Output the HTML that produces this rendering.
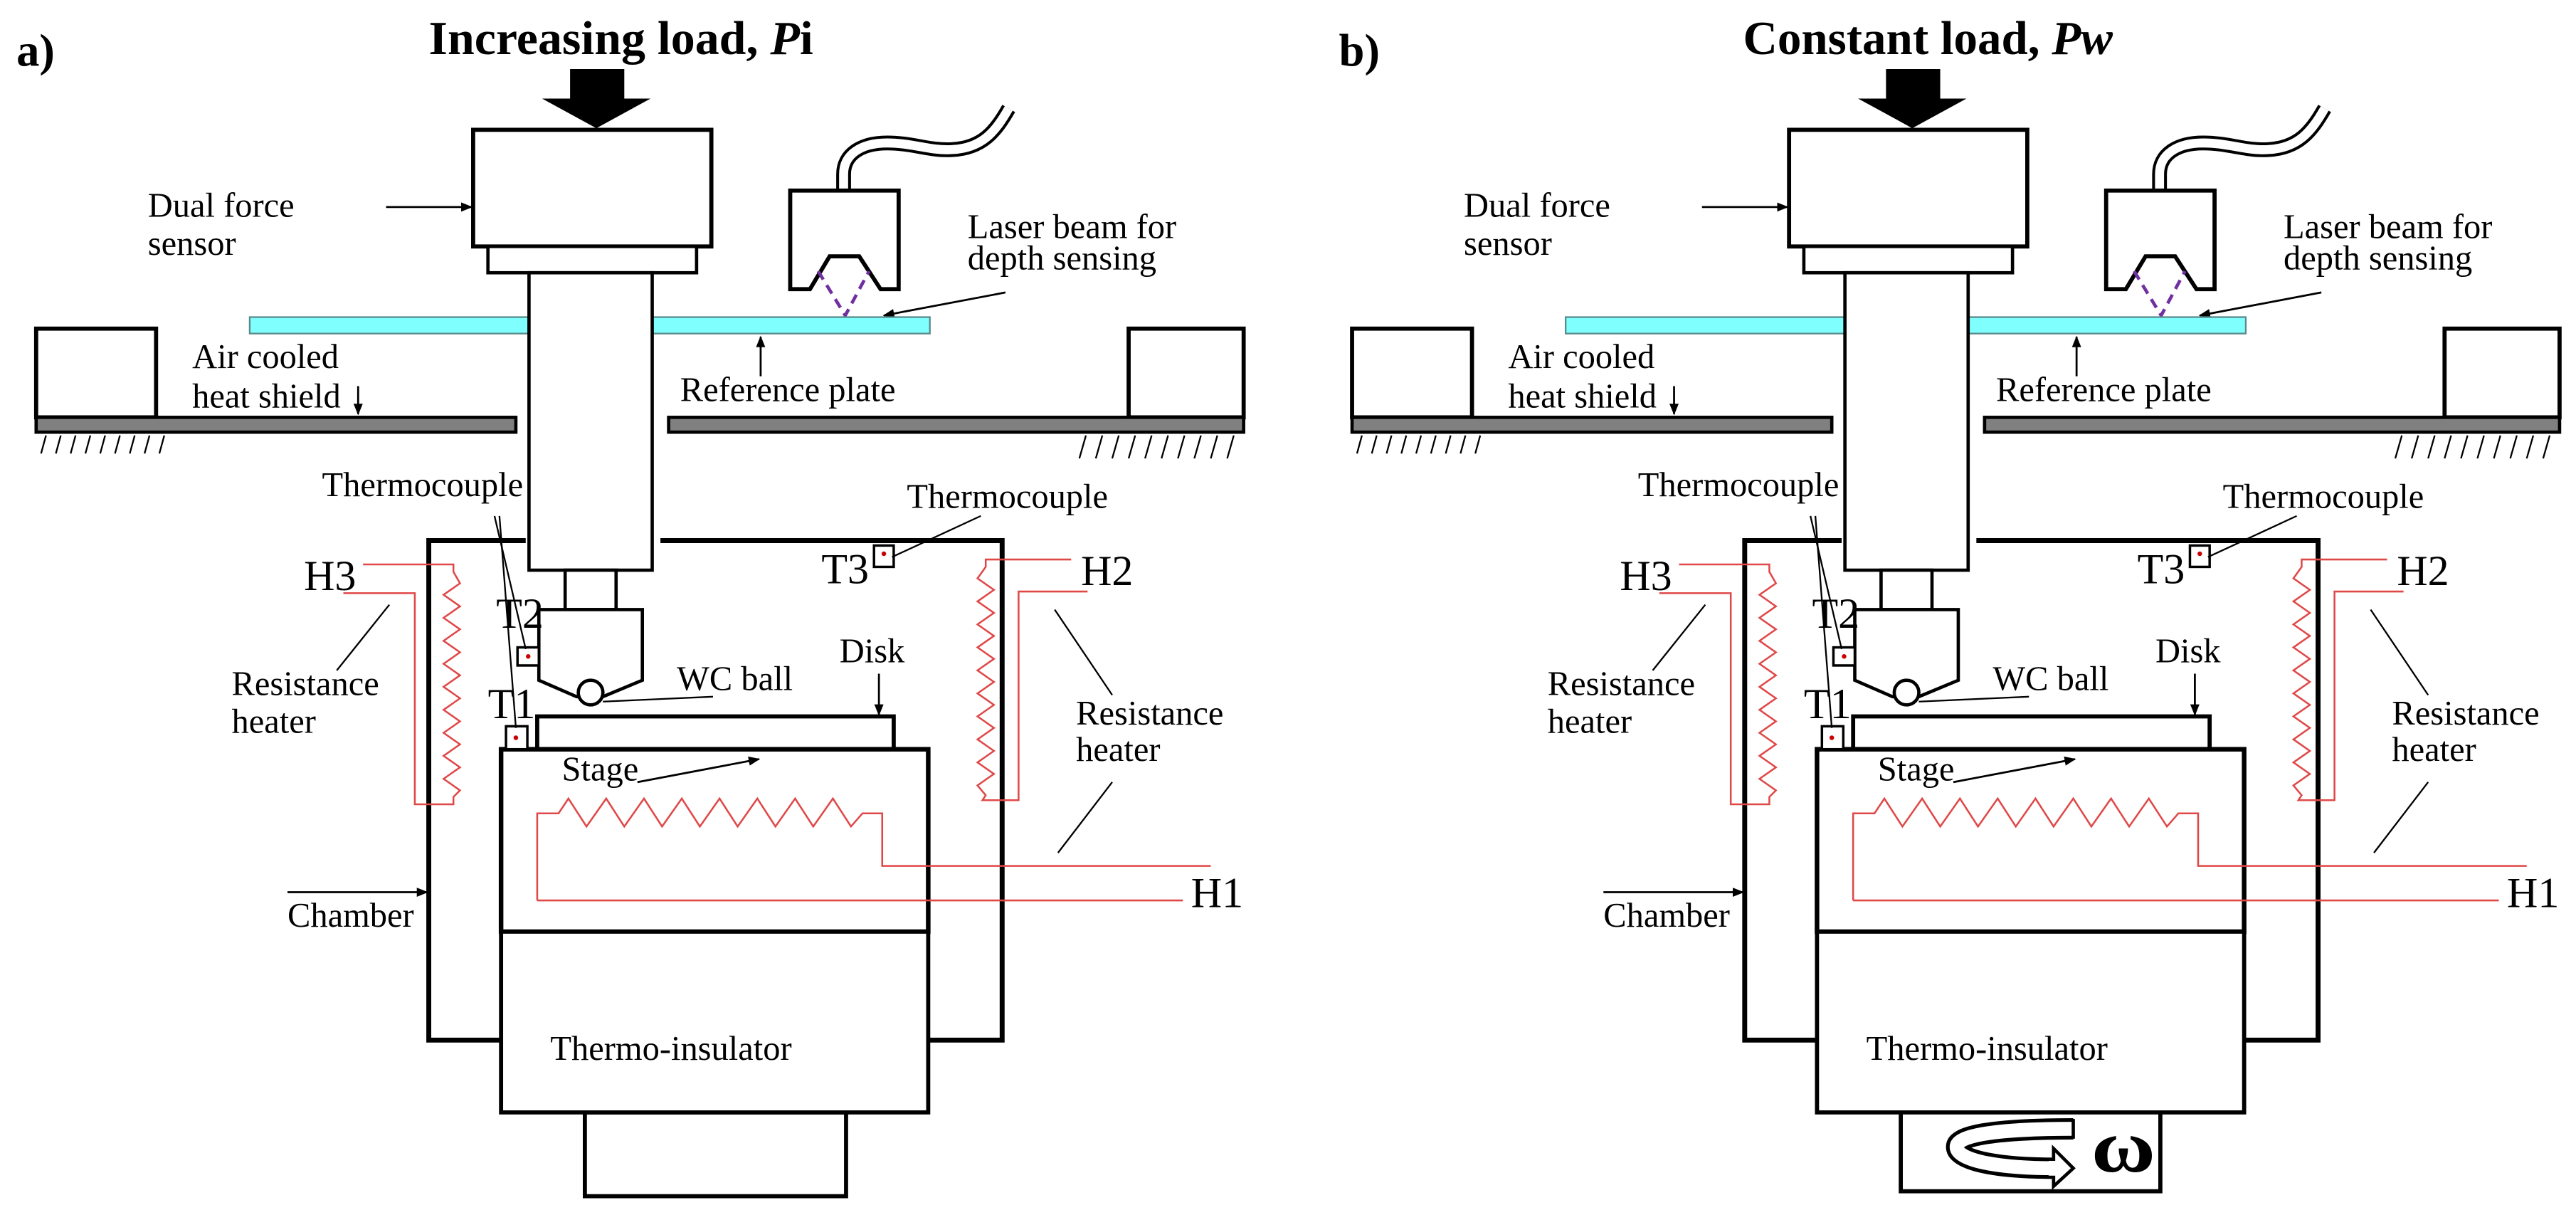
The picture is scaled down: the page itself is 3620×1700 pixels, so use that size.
<!DOCTYPE html>
<html><head><meta charset="utf-8"><style>html,body{margin:0;padding:0;background:#fff}svg{display:block}</style></head>
<body>
<svg width="3620" height="1700" viewBox="0 0 1568 736.4" preserveAspectRatio="none" xmlns="http://www.w3.org/2000/svg" font-family="Liberation Serif, serif">
<defs>
<marker id="ah" viewBox="0 0 10 10" refX="9" refY="5" markerWidth="7" markerHeight="7" orient="auto" markerUnits="userSpaceOnUse"><path d="M0,1 L10,5 L0,9 Z" fill="#000"/></marker>
</defs>
<rect width="1568" height="736.4" fill="#fff"/>

<!-- Titles -->
<text x="10" y="40" font-size="28" font-weight="bold">a)</text>
<text x="261" y="33" font-size="29" font-weight="bold" textLength="234" lengthAdjust="spacingAndGlyphs">Increasing load, <tspan font-style="italic">P</tspan>i</text>
<text x="815" y="40" font-size="28" font-weight="bold">b)</text>
<text x="1061" y="33" font-size="29" font-weight="bold" textLength="225" lengthAdjust="spacingAndGlyphs">Constant load, <tspan font-style="italic">P</tspan><tspan font-style="italic">w</tspan></text>

<!-- bottom blocks -->
<rect x="356" y="677" width="159" height="51" fill="#fff" stroke="#000" stroke-width="2.5"/>
<rect x="1157" y="676" width="158" height="49" fill="#fff" stroke="#000" stroke-width="2.5"/>
<g fill="none">
<path d="M1262,687 C1215,687 1191,691 1191,698 C1191,706 1215,711 1251,711" stroke="#000" stroke-width="13"/>
<path d="M1262,687 C1215,687 1191,691 1191,698 C1191,706 1215,711 1251,711" stroke="#fff" stroke-width="8.5"/>
<path d="M1262,681 V693" stroke="#000" stroke-width="2"/>
</g>
<path d="M1250,699 L1262,711 L1250,722 Z" fill="#fff" stroke="#000" stroke-width="2"/>
<rect x="1247" y="706.5" width="5" height="9" fill="#fff"/>
<text x="1273" y="713" font-size="46" font-weight="bold" textLength="39" lengthAdjust="spacingAndGlyphs">ω</text>

<g id="pa">
<path d="M347,42 H380 V60 H396 L363,78 L330,60 H347 Z" fill="#000"/>
<rect x="288" y="79" width="145" height="71" fill="#fff" stroke="#000" stroke-width="2.5"/>
<rect x="297" y="150" width="127" height="16" fill="#fff" stroke="#000" stroke-width="2"/>
<text x="90" y="132" font-size="21">Dual force</text>
<text x="90" y="155" font-size="21">sensor</text>
<line x1="235" y1="126" x2="287" y2="126" stroke="#000" stroke-width="1.2" marker-end="url(#ah)"/>
<path d="M513.5,116 V106 C513.5,94 524,87 540,87 C556,87 566,92 580,91 C598,90 606,80 614,66" fill="none" stroke="#000" stroke-width="9"/>
<path d="M513.5,117 V106 C513.5,94 524,87 540,87 C556,87 566,92 580,91 C598,90 606,80 614,66" fill="none" stroke="#fff" stroke-width="5.5"/>
<path d="M481,116 H547 V176 H536 L523,156 H505 L493,176 H481 Z" fill="#fff" stroke="#000" stroke-width="2.5"/>
<path d="M498,165 L514.5,192 L529,165" fill="none" stroke="#7030a0" stroke-width="2" stroke-dasharray="6,4"/>
<text x="589" y="145" font-size="21">Laser beam for</text>
<text x="589" y="164" font-size="21">depth sensing</text>
<line x1="612" y1="178" x2="538" y2="192" stroke="#000" stroke-width="1.2" marker-end="url(#ah)"/>
<rect x="152" y="193" width="414" height="10" fill="#80ffff" stroke="#5a8a8a" stroke-width="1"/>
<rect x="22" y="200" width="73" height="54" fill="#fff" stroke="#000" stroke-width="2.5"/>
<rect x="687" y="200" width="70" height="54" fill="#fff" stroke="#000" stroke-width="2.5"/>
<rect x="22" y="254" width="292" height="9" fill="#808080" stroke="#000" stroke-width="2"/>
<rect x="407" y="254" width="350" height="9" fill="#808080" stroke="#000" stroke-width="2"/>
<g stroke="#000" stroke-width="1">
<path d="M25,276 L28,265 M34,276 L37,265 M43,276 L46,265 M52,276 L55,265 M61,276 L64,265 M70,276 L73,265 M79,276 L82,265 M88,276 L91,265 M97,276 L100,265"/>
<path d="M657,279 L661,265 M667,279 L671,265 M677,279 L681,265 M687,279 L691,265 M697,279 L701,265 M707,279 L711,265 M717,279 L721,265 M727,279 L731,265 M737,279 L741,265 M747,279 L751,265"/>
</g>
<text x="117" y="224" font-size="21">Air cooled</text>
<text x="117" y="248" font-size="21">heat shield</text>
<line x1="218" y1="235" x2="218" y2="252" stroke="#000" stroke-width="1.2" marker-end="url(#ah)"/>
<text x="414" y="244" font-size="21">Reference plate</text>
<line x1="463" y1="229" x2="463" y2="205" stroke="#000" stroke-width="1.2" marker-end="url(#ah)"/>
<rect x="322" y="166" width="75" height="181" fill="#fff" stroke="#000" stroke-width="2"/>
<rect x="344" y="347" width="31" height="24" fill="#fff" stroke="#000" stroke-width="2"/>
<polygon points="328,371 391,371 391,414 367,424 351,424 328,414" fill="#fff" stroke="#000" stroke-width="2"/>
<circle cx="359.5" cy="421.5" r="7.5" fill="#fff" stroke="#000" stroke-width="2"/>
<g stroke="#000" stroke-width="3" fill="none">
<path d="M320,329 H261 V633 H305"/>
<path d="M402,329 H610 V633 H565"/>
</g>
<rect x="327" y="436" width="217" height="20" fill="#fff" stroke="#000" stroke-width="2.5"/>
<rect x="305" y="456" width="260" height="111" fill="#fff" stroke="#000" stroke-width="2.8"/>
<rect x="305" y="567" width="260" height="110" fill="#fff" stroke="#000" stroke-width="2.5"/>
<rect x="315" y="394" width="13" height="11" fill="#fff" stroke="#000" stroke-width="1.5"/>
<circle cx="321.5" cy="399.5" r="1.4" fill="#c00"/>
<rect x="308" y="442" width="13" height="14" fill="#fff" stroke="#000" stroke-width="1.5"/>
<circle cx="314" cy="449" r="1.4" fill="#c00"/>
<rect x="532" y="332" width="12" height="13" fill="#fff" stroke="#000" stroke-width="1.5"/>
<circle cx="538" cy="337" r="1.4" fill="#c00"/>
<g stroke="#000" stroke-width="1">
<line x1="301" y1="314" x2="320" y2="395"/>
<line x1="304" y1="314" x2="314" y2="443"/>
<line x1="597" y1="314" x2="543" y2="339"/>
<line x1="205" y1="408" x2="237" y2="368"/>
<line x1="642" y1="371" x2="677" y2="423"/>
<line x1="677" y1="476" x2="644" y2="519"/>
<line x1="434" y1="424" x2="367" y2="427"/>
</g>
<text x="196" y="302" font-size="21">Thermocouple</text>
<text x="552" y="309" font-size="21">Thermocouple</text>
<text x="302" y="382" font-size="26">T2</text>
<text x="297" y="437" font-size="26">T1</text>
<text x="500" y="355" font-size="26">T3</text>
<text x="185" y="359" font-size="26">H3</text>
<text x="658" y="356" font-size="26">H2</text>
<text x="725" y="552" font-size="26">H1</text>
<text x="141" y="423" font-size="21">Resistance</text>
<text x="141" y="446" font-size="21">heater</text>
<text x="655" y="441" font-size="21">Resistance</text>
<text x="655" y="463" font-size="21">heater</text>
<text x="511" y="403" font-size="21">Disk</text>
<line x1="535" y1="410" x2="535" y2="435" stroke="#000" stroke-width="1.2" marker-end="url(#ah)"/>
<text x="412" y="420" font-size="21">WC ball</text>
<text x="342" y="475" font-size="21">Stage</text>
<line x1="388" y1="476" x2="462" y2="462" stroke="#000" stroke-width="1.2" marker-end="url(#ah)"/>
<text x="175" y="564" font-size="21">Chamber</text>
<line x1="175" y1="543" x2="260" y2="543" stroke="#000" stroke-width="1.2" marker-end="url(#ah)"/>
<text x="335" y="645" font-size="21">Thermo-insulator</text>
<g fill="none" stroke="#e04848" stroke-width="1.1">
<polyline points="327,548 327,495 340,495 346,486 357,503 369,486 380,503 392,486 403,503 415,486 426,503 438,486 449,503 461,486 472,503 484,486 495,503 507,486 518,503 525,495 537,495 537,527 737,527"/>
<line x1="327" y1="548" x2="720" y2="548"/>
<polyline points="221,343.5 276,343.5 276,348 280,355 270,362 280,369 270,376 280,383 270,390 280,397 270,404 280,411 270,418 280,425 270,432 280,439 270,446 280,453 270,460 280,467 270,474 280,481 276,485 276,489.5 252.5,489.5 252.5,361 209,361"/>
<polyline points="652,340.5 600,340.5 600,345 595,352 605,359 595,366 605,373 595,380 605,387 595,394 605,401 595,408 605,415 595,422 605,429 595,436 605,443 595,450 605,457 595,464 605,471 595,478 600,484 598,487 620,487 620,360 662,360"/>
</g>
</g>

<g transform="translate(801,0)">
<path d="M347,42 H380 V60 H396 L363,78 L330,60 H347 Z" fill="#000"/>
<rect x="288" y="79" width="145" height="71" fill="#fff" stroke="#000" stroke-width="2.5"/>
<rect x="297" y="150" width="127" height="16" fill="#fff" stroke="#000" stroke-width="2"/>
<text x="90" y="132" font-size="21">Dual force</text>
<text x="90" y="155" font-size="21">sensor</text>
<line x1="235" y1="126" x2="287" y2="126" stroke="#000" stroke-width="1.2" marker-end="url(#ah)"/>
<path d="M513.5,116 V106 C513.5,94 524,87 540,87 C556,87 566,92 580,91 C598,90 606,80 614,66" fill="none" stroke="#000" stroke-width="9"/>
<path d="M513.5,117 V106 C513.5,94 524,87 540,87 C556,87 566,92 580,91 C598,90 606,80 614,66" fill="none" stroke="#fff" stroke-width="5.5"/>
<path d="M481,116 H547 V176 H536 L523,156 H505 L493,176 H481 Z" fill="#fff" stroke="#000" stroke-width="2.5"/>
<path d="M498,165 L514.5,192 L529,165" fill="none" stroke="#7030a0" stroke-width="2" stroke-dasharray="6,4"/>
<text x="589" y="145" font-size="21">Laser beam for</text>
<text x="589" y="164" font-size="21">depth sensing</text>
<line x1="612" y1="178" x2="538" y2="192" stroke="#000" stroke-width="1.2" marker-end="url(#ah)"/>
<rect x="152" y="193" width="414" height="10" fill="#80ffff" stroke="#5a8a8a" stroke-width="1"/>
<rect x="22" y="200" width="73" height="54" fill="#fff" stroke="#000" stroke-width="2.5"/>
<rect x="687" y="200" width="70" height="54" fill="#fff" stroke="#000" stroke-width="2.5"/>
<rect x="22" y="254" width="292" height="9" fill="#808080" stroke="#000" stroke-width="2"/>
<rect x="407" y="254" width="350" height="9" fill="#808080" stroke="#000" stroke-width="2"/>
<g stroke="#000" stroke-width="1">
<path d="M25,276 L28,265 M34,276 L37,265 M43,276 L46,265 M52,276 L55,265 M61,276 L64,265 M70,276 L73,265 M79,276 L82,265 M88,276 L91,265 M97,276 L100,265"/>
<path d="M657,279 L661,265 M667,279 L671,265 M677,279 L681,265 M687,279 L691,265 M697,279 L701,265 M707,279 L711,265 M717,279 L721,265 M727,279 L731,265 M737,279 L741,265 M747,279 L751,265"/>
</g>
<text x="117" y="224" font-size="21">Air cooled</text>
<text x="117" y="248" font-size="21">heat shield</text>
<line x1="218" y1="235" x2="218" y2="252" stroke="#000" stroke-width="1.2" marker-end="url(#ah)"/>
<text x="414" y="244" font-size="21">Reference plate</text>
<line x1="463" y1="229" x2="463" y2="205" stroke="#000" stroke-width="1.2" marker-end="url(#ah)"/>
<rect x="322" y="166" width="75" height="181" fill="#fff" stroke="#000" stroke-width="2"/>
<rect x="344" y="347" width="31" height="24" fill="#fff" stroke="#000" stroke-width="2"/>
<polygon points="328,371 391,371 391,414 367,424 351,424 328,414" fill="#fff" stroke="#000" stroke-width="2"/>
<circle cx="359.5" cy="421.5" r="7.5" fill="#fff" stroke="#000" stroke-width="2"/>
<g stroke="#000" stroke-width="3" fill="none">
<path d="M320,329 H261 V633 H305"/>
<path d="M402,329 H610 V633 H565"/>
</g>
<rect x="327" y="436" width="217" height="20" fill="#fff" stroke="#000" stroke-width="2.5"/>
<rect x="305" y="456" width="260" height="111" fill="#fff" stroke="#000" stroke-width="2.8"/>
<rect x="305" y="567" width="260" height="110" fill="#fff" stroke="#000" stroke-width="2.5"/>
<rect x="315" y="394" width="13" height="11" fill="#fff" stroke="#000" stroke-width="1.5"/>
<circle cx="321.5" cy="399.5" r="1.4" fill="#c00"/>
<rect x="308" y="442" width="13" height="14" fill="#fff" stroke="#000" stroke-width="1.5"/>
<circle cx="314" cy="449" r="1.4" fill="#c00"/>
<rect x="532" y="332" width="12" height="13" fill="#fff" stroke="#000" stroke-width="1.5"/>
<circle cx="538" cy="337" r="1.4" fill="#c00"/>
<g stroke="#000" stroke-width="1">
<line x1="301" y1="314" x2="320" y2="395"/>
<line x1="304" y1="314" x2="314" y2="443"/>
<line x1="597" y1="314" x2="543" y2="339"/>
<line x1="205" y1="408" x2="237" y2="368"/>
<line x1="642" y1="371" x2="677" y2="423"/>
<line x1="677" y1="476" x2="644" y2="519"/>
<line x1="434" y1="424" x2="367" y2="427"/>
</g>
<text x="196" y="302" font-size="21">Thermocouple</text>
<text x="552" y="309" font-size="21">Thermocouple</text>
<text x="302" y="382" font-size="26">T2</text>
<text x="297" y="437" font-size="26">T1</text>
<text x="500" y="355" font-size="26">T3</text>
<text x="185" y="359" font-size="26">H3</text>
<text x="658" y="356" font-size="26">H2</text>
<text x="725" y="552" font-size="26">H1</text>
<text x="141" y="423" font-size="21">Resistance</text>
<text x="141" y="446" font-size="21">heater</text>
<text x="655" y="441" font-size="21">Resistance</text>
<text x="655" y="463" font-size="21">heater</text>
<text x="511" y="403" font-size="21">Disk</text>
<line x1="535" y1="410" x2="535" y2="435" stroke="#000" stroke-width="1.2" marker-end="url(#ah)"/>
<text x="412" y="420" font-size="21">WC ball</text>
<text x="342" y="475" font-size="21">Stage</text>
<line x1="388" y1="476" x2="462" y2="462" stroke="#000" stroke-width="1.2" marker-end="url(#ah)"/>
<text x="175" y="564" font-size="21">Chamber</text>
<line x1="175" y1="543" x2="260" y2="543" stroke="#000" stroke-width="1.2" marker-end="url(#ah)"/>
<text x="335" y="645" font-size="21">Thermo-insulator</text>
<g fill="none" stroke="#e04848" stroke-width="1.1">
<polyline points="327,548 327,495 340,495 346,486 357,503 369,486 380,503 392,486 403,503 415,486 426,503 438,486 449,503 461,486 472,503 484,486 495,503 507,486 518,503 525,495 537,495 537,527 737,527"/>
<line x1="327" y1="548" x2="720" y2="548"/>
<polyline points="221,343.5 276,343.5 276,348 280,355 270,362 280,369 270,376 280,383 270,390 280,397 270,404 280,411 270,418 280,425 270,432 280,439 270,446 280,453 270,460 280,467 270,474 280,481 276,485 276,489.5 252.5,489.5 252.5,361 209,361"/>
<polyline points="652,340.5 600,340.5 600,345 595,352 605,359 595,366 605,373 595,380 605,387 595,394 605,401 595,408 605,415 595,422 605,429 595,436 605,443 595,450 605,457 595,464 605,471 595,478 600,484 598,487 620,487 620,360 662,360"/>
</g>
</g>
</svg>
</body></html>
